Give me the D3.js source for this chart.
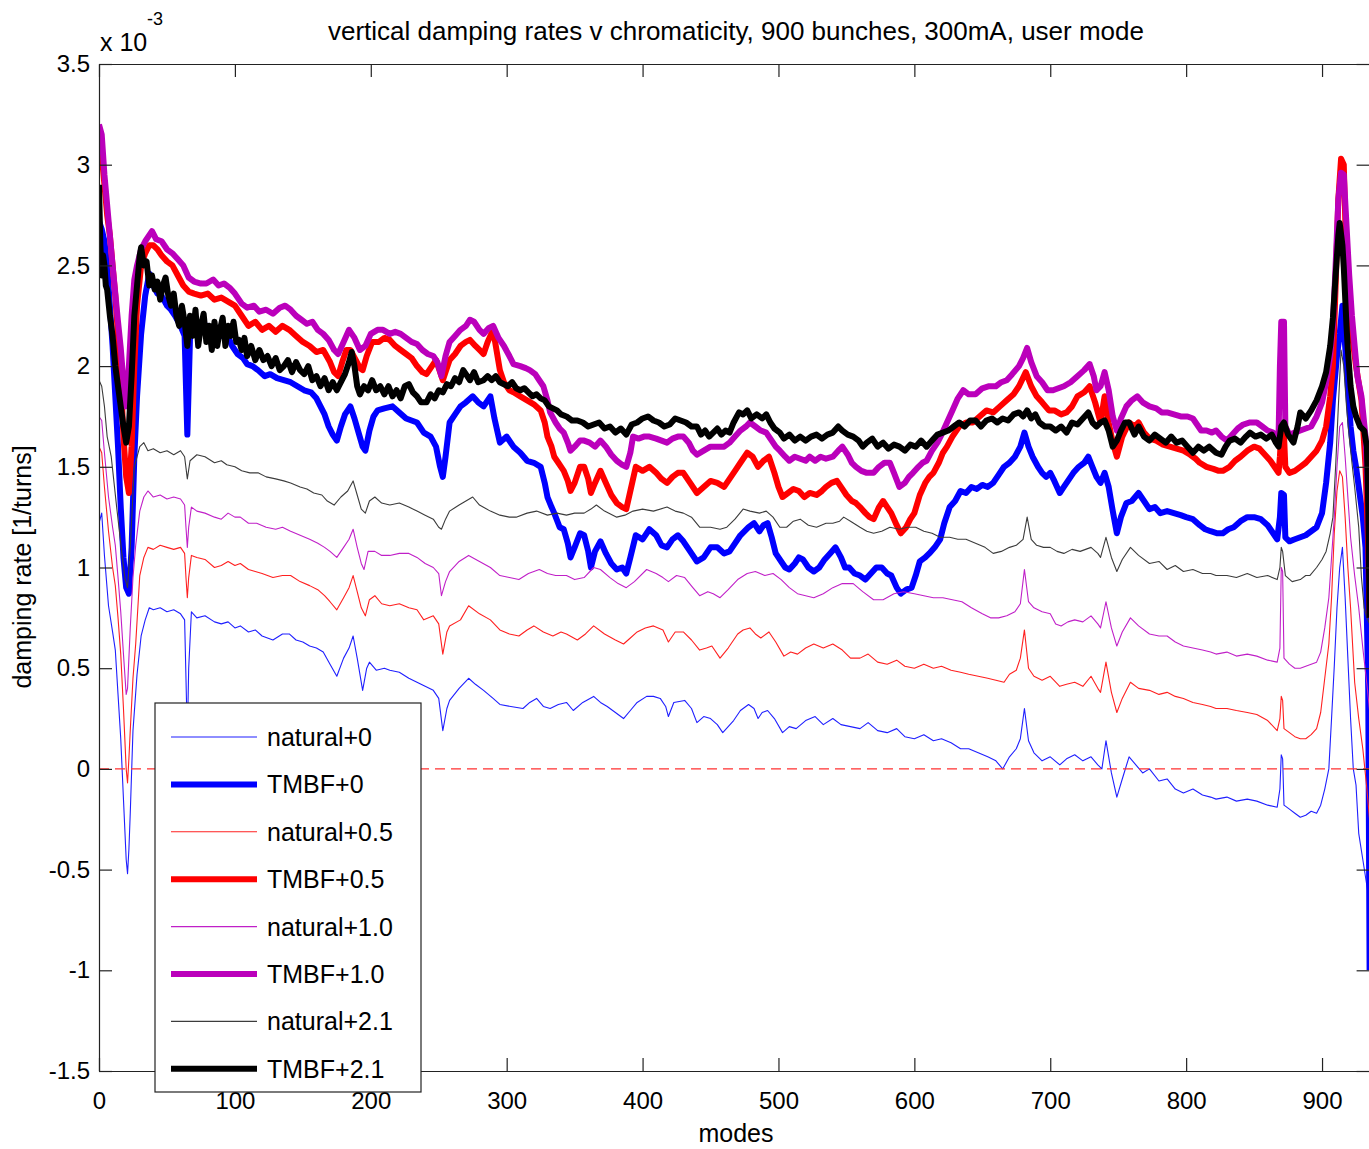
<!DOCTYPE html>
<html><head><meta charset="utf-8">
<script src="https://cdn.jsdelivr.net/npm/d3@7"></script>
<style>
html,body{margin:0;padding:0;background:#fff;}
svg{display:block;}
text{font-family:"Liberation Sans",Arial,Helvetica,sans-serif;fill:#000;}
</style></head><body>
<svg id="chart" width="1369" height="1149"></svg>
<script>
// ---------------- data (modes, value in units of 1e-3 1/turns) ----------------
const titleText = "vertical damping rates v chromaticity, 900 bunches, 300mA, user mode";
const xLabel = "modes";
const yLabel = "damping rate [1/turns]";
const xTicks = [0,100,200,300,400,500,600,700,800,900];
const yTicks = [-1.5,-1,-0.5,0,0.5,1,1.5,2,2.5,3,3.5];
const seriesNames = ["natural+0","TMBF+0","natural+0.5","TMBF+0.5","natural+1.0","TMBF+1.0","natural+2.1","TMBF+2.1"];

const natural0 = [[0,1.22],[2,1.27],[4,1.06],[7,0.81],[10,0.68],[12,0.59],[14,0.37],[16,0.15],[18,-0.15],[20,-0.45],[21,-0.52],[22,-0.4],[23,-0.22],[25,0.19],[28,0.47],[31,0.66],[34,0.74],[37,0.8],[40,0.79],[45,0.8],[50,0.78],[55,0.79],[60,0.77],[63,0.74],[64,0.45],[65,0.15],[66,0.5],[68,0.78],[72,0.75],[78,0.76],[85,0.73],[90,0.72],[95,0.73],[100,0.7],[104,0.71],[110,0.68],[115,0.69],[120,0.66],[128,0.64],[135,0.67],[140,0.67],[145,0.64],[150,0.63],[155,0.61],[160,0.6],[165,0.58],[170,0.52],[175,0.46],[180,0.55],[184,0.6],[187,0.66],[190,0.55],[194,0.39],[197,0.5],[199,0.53],[204,0.49],[210,0.5],[214,0.49],[221,0.48],[228,0.45],[234,0.43],[240,0.41],[246,0.39],[250,0.35],[253,0.19],[256,0.3],[258,0.34],[265,0.4],[272,0.45],[277,0.42],[283,0.39],[290,0.35],[295,0.32],[303,0.31],[312,0.3],[317,0.33],[322,0.35],[327,0.31],[332,0.3],[338,0.32],[344,0.33],[349,0.29],[356,0.33],[364,0.36],[369,0.33],[374,0.31],[380,0.28],[386,0.25],[391,0.29],[396,0.33],[403,0.36],[408,0.36],[413,0.35],[417,0.31],[419,0.26],[423,0.33],[431,0.34],[436,0.3],[440,0.23],[445,0.26],[450,0.25],[455,0.22],[459,0.18],[463,0.21],[467,0.24],[472,0.29],[478,0.32],[482,0.3],[485,0.25],[488,0.28],[492,0.29],[497,0.25],[503,0.18],[508,0.21],[513,0.2],[520,0.24],[527,0.26],[533,0.22],[540,0.25],[546,0.22],[553,0.21],[560,0.2],[566,0.23],[573,0.19],[580,0.18],[587,0.2],[593,0.16],[600,0.15],[607,0.17],[614,0.14],[620,0.15],[627,0.13],[634,0.1],[640,0.1],[647,0.08],[654,0.06],[660,0.04],[665,0.0],[670,0.06],[675,0.1],[678,0.15],[681,0.3],[684,0.14],[688,0.08],[694,0.04],[700,0.06],[707,0.02],[712,0.05],[718,0.07],[724,0.04],[730,0.06],[735,0.02],[738,0.0],[741,0.14],[745,-0.02],[749,-0.14],[753,-0.05],[758,0.06],[763,0.02],[768,-0.02],[773,0.0],[780,-0.06],[786,-0.05],[792,-0.1],[798,-0.12],[805,-0.1],[812,-0.13],[818,-0.14],[822,-0.15],[830,-0.14],[837,-0.16],[845,-0.15],[852,-0.16],[860,-0.18],[867,-0.19],[869,-0.1],[870,0.07],[871,0.05],[872,-0.18],[876,-0.2],[880,-0.22],[884,-0.24],[888,-0.23],[892,-0.21],[896,-0.22],[899,-0.18],[902,-0.1],[905,0.0],[907,0.25],[909,0.51],[911,0.8],[913,1.0],[915,1.1],[917,0.85],[919,0.55],[921,0.25],[923,0.0],[925,-0.08],[927,-0.32],[930,-0.45],[933,-0.58],[935,-0.68]];

const tmbf0 = [[0,2.72],[2,2.68],[4,2.62],[6,2.5],[8,2.3],[10,2.1],[12,1.85],[14,1.6],[16,1.3],[18,1.05],[20,0.9],[22,0.87],[24,1.1],[26,1.55],[28,1.85],[31,2.16],[34,2.35],[37,2.46],[40,2.4],[43,2.36],[46,2.35],[50,2.3],[53,2.28],[56,2.25],[60,2.2],[63,2.15],[64,1.9],[65,1.66],[66,1.9],[67,2.15],[70,2.2],[75,2.17],[80,2.2],[85,2.17],[90,2.15],[94,2.16],[98,2.1],[102,2.06],[106,2.04],[109,2.01],[113,2.0],[117,1.98],[122,1.95],[126,1.96],[131,1.94],[136,1.93],[141,1.92],[146,1.9],[151,1.88],[156,1.87],[160,1.84],[163,1.8],[166,1.76],[169,1.7],[172,1.66],[175,1.63],[178,1.7],[181,1.76],[185,1.8],[188,1.74],[191,1.67],[194,1.6],[196,1.58],[199,1.68],[202,1.75],[205,1.78],[210,1.79],[216,1.8],[221,1.77],[226,1.74],[230,1.73],[234,1.72],[239,1.67],[244,1.65],[248,1.6],[251,1.5],[253,1.45],[255,1.55],[258,1.72],[262,1.76],[266,1.8],[270,1.82],[275,1.85],[279,1.82],[283,1.8],[286,1.83],[288,1.85],[291,1.74],[295,1.62],[300,1.65],[305,1.6],[310,1.57],[315,1.53],[320,1.52],[325,1.5],[328,1.42],[330,1.35],[333,1.3],[335,1.27],[339,1.2],[342,1.19],[345,1.12],[347,1.05],[350,1.1],[354,1.17],[357,1.16],[360,1.08],[362,1.0],[365,1.08],[369,1.13],[373,1.07],[377,1.02],[381,0.99],[385,1.0],[388,0.97],[391,1.05],[395,1.16],[400,1.14],[405,1.19],[410,1.16],[414,1.11],[418,1.1],[422,1.14],[426,1.16],[430,1.13],[435,1.08],[440,1.03],[445,1.05],[450,1.1],[455,1.1],[460,1.07],[464,1.08],[468,1.12],[472,1.16],[478,1.2],[482,1.22],[486,1.18],[489,1.21],[492,1.22],[495,1.15],[498,1.07],[502,1.03],[505,1.0],[508,0.99],[512,1.02],[515,1.05],[518,1.04],[522,1.0],[526,0.98],[530,1.0],[534,1.04],[538,1.07],[542,1.1],[546,1.05],[549,1.0],[552,1.0],[556,0.97],[560,0.96],[564,0.94],[568,0.97],[572,1.0],[576,1.0],[580,0.97],[583,0.96],[587,0.9],[590,0.87],[594,0.89],[598,0.9],[601,0.96],[604,1.03],[608,1.05],[611,1.07],[615,1.1],[619,1.14],[622,1.22],[626,1.3],[630,1.33],[634,1.38],[638,1.37],[642,1.4],[646,1.39],[650,1.41],[654,1.4],[658,1.42],[662,1.46],[666,1.5],[670,1.52],[674,1.55],[678,1.6],[681,1.67],[684,1.6],[687,1.55],[691,1.5],[694,1.47],[697,1.45],[700,1.47],[703,1.43],[707,1.37],[710,1.4],[714,1.44],[717,1.47],[721,1.5],[725,1.52],[728,1.55],[731,1.5],[734,1.45],[737,1.42],[740,1.47],[743,1.4],[746,1.28],[749,1.17],[752,1.25],[756,1.32],[760,1.33],[765,1.37],[769,1.33],[773,1.29],[777,1.3],[781,1.27],[786,1.28],[791,1.27],[796,1.26],[800,1.25],[805,1.24],[810,1.21],[814,1.19],[818,1.18],[823,1.17],[827,1.17],[831,1.19],[835,1.2],[840,1.23],[845,1.25],[850,1.25],[855,1.24],[860,1.21],[864,1.17],[867,1.14],[869,1.25],[870,1.37],[872,1.36],[873,1.15],[876,1.13],[880,1.14],[884,1.15],[888,1.16],[892,1.18],[896,1.2],[900,1.27],[903,1.42],[906,1.62],[908,1.83],[911,2.05],[913,2.16],[915,2.3],[917,2.1],[919,1.9],[921,1.7],[923,1.58],[925,1.5],[928,1.35],[930,1.25],[932,1.1],[934,0.4],[935,-1.0]];

const natural05 = [[0,1.6],[2,1.57],[4,1.4],[7,1.18],[10,1.0],[12,0.91],[14,0.75],[16,0.57],[18,0.3],[20,0.0],[21,-0.07],[22,0.05],[23,0.19],[25,0.45],[27,0.62],[30,0.96],[33,1.05],[36,1.1],[40,1.09],[45,1.11],[50,1.1],[55,1.09],[60,1.1],[63,1.07],[64,0.95],[65,0.85],[66,0.95],[68,1.06],[72,1.05],[78,1.04],[85,1.0],[90,1.01],[95,1.03],[100,1.01],[104,1.02],[110,0.99],[115,0.98],[120,0.97],[128,0.95],[135,0.96],[141,0.96],[148,0.93],[155,0.91],[161,0.89],[166,0.86],[170,0.83],[175,0.79],[180,0.85],[184,0.9],[187,0.96],[190,0.88],[193,0.8],[196,0.76],[199,0.84],[203,0.86],[208,0.82],[214,0.81],[221,0.82],[228,0.8],[234,0.79],[239,0.74],[246,0.76],[250,0.72],[253,0.57],[256,0.68],[258,0.71],[266,0.74],[272,0.81],[280,0.77],[288,0.74],[295,0.69],[302,0.67],[309,0.66],[315,0.69],[320,0.71],[327,0.68],[334,0.66],[340,0.68],[344,0.67],[352,0.64],[358,0.67],[364,0.71],[372,0.67],[380,0.64],[386,0.62],[391,0.65],[396,0.68],[402,0.7],[408,0.71],[415,0.69],[419,0.63],[424,0.68],[430,0.68],[436,0.64],[442,0.59],[447,0.6],[451,0.61],[457,0.55],[463,0.6],[470,0.67],[474,0.69],[479,0.7],[483,0.67],[487,0.65],[493,0.68],[498,0.63],[504,0.56],[509,0.58],[514,0.57],[520,0.6],[526,0.62],[533,0.6],[540,0.62],[547,0.59],[553,0.55],[560,0.55],[566,0.57],[573,0.53],[580,0.52],[587,0.54],[593,0.51],[600,0.5],[607,0.52],[614,0.5],[620,0.51],[627,0.49],[634,0.48],[640,0.47],[647,0.46],[654,0.45],[660,0.44],[666,0.43],[670,0.47],[675,0.49],[678,0.55],[681,0.69],[684,0.5],[688,0.46],[694,0.44],[700,0.46],[707,0.41],[712,0.42],[718,0.43],[724,0.41],[730,0.46],[735,0.4],[737,0.38],[741,0.53],[745,0.38],[749,0.28],[753,0.35],[759,0.43],[765,0.4],[773,0.39],[780,0.37],[786,0.38],[792,0.36],[798,0.35],[805,0.33],[812,0.32],[818,0.31],[822,0.3],[830,0.3],[837,0.29],[845,0.28],[852,0.27],[860,0.24],[867,0.19],[869,0.25],[870,0.36],[871,0.34],[872,0.2],[876,0.18],[880,0.16],[884,0.15],[888,0.15],[892,0.17],[896,0.2],[899,0.28],[902,0.45],[905,0.62],[907,0.85],[909,1.17],[911,1.38],[913,1.48],[915,1.45],[917,1.25],[919,1.0],[921,0.8],[924,0.43],[927,0.25],[930,0.1],[933,-0.1],[935,-0.25]];

const tmbf05 = [[0,3.1],[2,3.05],[4,2.9],[6,2.75],[8,2.65],[10,2.5],[12,2.35],[14,2.15],[16,1.95],[18,1.65],[20,1.45],[22,1.37],[24,1.6],[26,2.0],[28,2.3],[31,2.5],[34,2.56],[37,2.6],[40,2.6],[43,2.58],[46,2.55],[50,2.52],[54,2.5],[58,2.45],[62,2.4],[66,2.37],[70,2.36],[75,2.35],[80,2.36],[85,2.33],[90,2.34],[95,2.32],[100,2.3],[105,2.25],[110,2.2],[115,2.22],[120,2.18],[125,2.2],[130,2.17],[135,2.2],[140,2.18],[145,2.15],[150,2.12],[155,2.1],[160,2.07],[165,2.08],[170,2.02],[173,1.97],[176,1.95],[179,2.02],[182,2.08],[185,2.08],[189,2.03],[192,1.99],[194,1.98],[197,2.05],[201,2.12],[206,2.12],[210,2.14],[214,2.13],[218,2.1],[222,2.08],[226,2.06],[230,2.04],[234,2.0],[238,1.97],[241,1.96],[245,2.0],[248,2.03],[251,1.97],[253,1.93],[256,1.99],[258,2.03],[262,2.06],[266,2.1],[270,2.12],[273,2.13],[277,2.1],[280,2.08],[283,2.06],[286,2.12],[290,2.18],[292,2.1],[295,1.98],[298,1.92],[302,1.88],[305,1.87],[310,1.85],[315,1.83],[320,1.81],[325,1.78],[328,1.72],[330,1.65],[333,1.6],[335,1.55],[338,1.52],[342,1.48],[345,1.43],[347,1.38],[350,1.42],[354,1.5],[357,1.5],[360,1.44],[362,1.37],[365,1.42],[369,1.48],[373,1.42],[377,1.36],[381,1.32],[385,1.3],[388,1.29],[391,1.38],[395,1.5],[400,1.48],[405,1.5],[410,1.47],[414,1.44],[418,1.42],[422,1.45],[426,1.47],[430,1.47],[435,1.42],[440,1.37],[445,1.4],[450,1.43],[455,1.42],[460,1.4],[464,1.44],[468,1.48],[472,1.52],[477,1.57],[481,1.55],[485,1.5],[489,1.53],[493,1.55],[497,1.47],[500,1.4],[503,1.35],[507,1.37],[511,1.39],[515,1.38],[519,1.35],[523,1.37],[528,1.36],[532,1.38],[535,1.4],[539,1.42],[543,1.43],[546,1.4],[550,1.36],[554,1.33],[557,1.32],[560,1.3],[564,1.27],[567,1.25],[570,1.24],[574,1.3],[577,1.33],[580,1.3],[583,1.27],[587,1.21],[590,1.17],[594,1.2],[597,1.24],[600,1.27],[604,1.36],[608,1.42],[611,1.45],[614,1.47],[618,1.52],[621,1.57],[624,1.6],[628,1.65],[633,1.7],[638,1.72],[643,1.72],[648,1.75],[653,1.78],[658,1.77],[663,1.8],[668,1.83],[673,1.86],[677,1.9],[682,1.97],[686,1.9],[690,1.85],[694,1.82],[699,1.78],[703,1.78],[708,1.76],[712,1.77],[716,1.8],[720,1.85],[725,1.87],[729,1.9],[733,1.82],[737,1.72],[740,1.85],[743,1.72],[746,1.62],[749,1.55],[753,1.65],[758,1.72],[762,1.7],[765,1.72],[769,1.67],[773,1.64],[778,1.63],[783,1.61],[788,1.6],[793,1.59],[798,1.58],[803,1.56],[807,1.54],[810,1.52],[815,1.5],[820,1.49],[824,1.48],[827,1.48],[832,1.5],[836,1.53],[840,1.55],[845,1.58],[850,1.6],[854,1.59],[858,1.56],[862,1.53],[865,1.5],[868,1.47],[869,1.55],[870,1.67],[872,1.66],[873,1.5],[876,1.47],[880,1.48],[884,1.5],[888,1.52],[892,1.55],[896,1.58],[900,1.63],[903,1.7],[906,1.85],[908,2.0],[910,2.4],[912,2.83],[914,3.03],[916,3.0],[918,2.5],[920,2.3],[922,2.16],[925,2.0],[929,1.83],[932,1.5],[934,1.1],[935,0.75]];

const natural10 = [[0,1.75],[2,1.73],[4,1.57],[7,1.35],[10,1.2],[12,1.11],[14,0.95],[16,0.78],[18,0.57],[20,0.37],[21,0.4],[22,0.55],[23,0.7],[25,0.95],[27,1.11],[30,1.28],[33,1.35],[36,1.38],[40,1.35],[45,1.36],[50,1.34],[55,1.35],[60,1.34],[63,1.31],[64,1.2],[65,1.1],[66,1.2],[68,1.3],[72,1.28],[78,1.27],[85,1.25],[90,1.24],[95,1.27],[100,1.25],[104,1.25],[110,1.22],[116,1.22],[123,1.2],[130,1.19],[135,1.2],[141,1.18],[148,1.16],[155,1.14],[161,1.12],[166,1.1],[170,1.08],[175,1.05],[180,1.1],[184,1.14],[187,1.19],[190,1.1],[193,1.02],[195,0.99],[198,1.08],[203,1.08],[208,1.06],[214,1.06],[221,1.07],[228,1.07],[234,1.05],[240,1.02],[246,1.0],[250,0.97],[252,0.86],[255,0.93],[258,0.98],[265,1.03],[272,1.06],[280,1.03],[288,1.0],[295,0.96],[302,0.95],[309,0.94],[316,0.97],[324,0.99],[330,0.97],[336,0.96],[344,0.96],[350,0.94],[357,0.95],[364,1.0],[369,0.99],[376,0.95],[382,0.92],[388,0.9],[394,0.93],[403,0.99],[410,0.97],[415,0.95],[419,0.93],[425,0.96],[431,0.95],[437,0.9],[442,0.86],[448,0.88],[452,0.87],[457,0.85],[463,0.89],[470,0.94],[477,0.97],[483,0.98],[490,0.96],[496,0.97],[502,0.94],[508,0.9],[514,0.87],[520,0.86],[526,0.85],[533,0.87],[540,0.9],[547,0.92],[555,0.92],[562,0.88],[570,0.84],[577,0.84],[585,0.87],[592,0.88],[600,0.87],[607,0.86],[614,0.85],[621,0.85],[628,0.84],[635,0.83],[642,0.8],[650,0.77],[656,0.75],[662,0.75],[668,0.76],[674,0.78],[678,0.82],[681,0.99],[684,0.83],[688,0.8],[694,0.78],[700,0.77],[704,0.72],[708,0.71],[713,0.73],[718,0.74],[724,0.73],[730,0.76],[735,0.72],[737,0.7],[741,0.83],[745,0.7],[749,0.61],[753,0.68],[759,0.75],[765,0.71],[773,0.67],[780,0.66],[786,0.66],[792,0.63],[798,0.61],[805,0.6],[812,0.59],[818,0.58],[822,0.57],[830,0.58],[837,0.56],[845,0.57],[852,0.56],[860,0.54],[867,0.53],[869,0.6],[870,1.0],[871,0.98],[872,0.55],[876,0.52],[880,0.5],[884,0.5],[888,0.51],[892,0.52],[896,0.53],[899,0.58],[902,0.7],[905,0.85],[907,1.05],[909,1.25],[911,1.5],[913,1.7],[915,1.72],[917,1.55],[919,1.35],[921,1.15],[924,0.96],[927,0.8],[930,0.6],[933,0.42],[935,0.29]];

const tmbf10 = [[0,3.2],[2,3.15],[4,2.95],[6,2.8],[8,2.65],[10,2.5],[12,2.36],[14,2.22],[16,2.09],[18,1.92],[20,1.8],[22,2.0],[24,2.25],[26,2.43],[28,2.5],[31,2.58],[34,2.62],[37,2.65],[39,2.67],[42,2.63],[46,2.62],[50,2.58],[54,2.56],[58,2.53],[62,2.5],[66,2.44],[70,2.42],[75,2.41],[79,2.41],[84,2.43],[88,2.4],[92,2.41],[96,2.39],[100,2.36],[105,2.31],[109,2.29],[114,2.3],[118,2.27],[123,2.28],[128,2.26],[133,2.29],[137,2.3],[141,2.28],[145,2.25],[149,2.23],[153,2.21],[157,2.22],[161,2.18],[165,2.16],[169,2.13],[173,2.08],[176,2.06],[180,2.12],[184,2.18],[188,2.14],[192,2.08],[196,2.1],[200,2.16],[205,2.18],[209,2.18],[214,2.16],[218,2.17],[222,2.16],[226,2.14],[230,2.12],[234,2.11],[238,2.08],[242,2.06],[246,2.05],[249,2.02],[252,1.95],[255,2.05],[258,2.12],[262,2.15],[266,2.18],[270,2.2],[273,2.23],[276,2.22],[280,2.18],[283,2.16],[287,2.19],[290,2.2],[294,2.14],[298,2.1],[302,2.05],[305,2.01],[310,2.0],[314,1.99],[317,1.98],[321,1.96],[324,1.93],[327,1.9],[330,1.83],[332,1.77],[336,1.72],[339,1.69],[342,1.67],[345,1.62],[347,1.58],[350,1.6],[354,1.63],[357,1.63],[361,1.62],[365,1.6],[369,1.63],[373,1.6],[377,1.56],[381,1.53],[385,1.51],[388,1.5],[391,1.57],[393,1.65],[397,1.64],[401,1.65],[405,1.65],[410,1.64],[414,1.63],[418,1.62],[422,1.64],[426,1.65],[430,1.65],[434,1.62],[437,1.58],[440,1.56],[445,1.58],[450,1.6],[455,1.6],[460,1.6],[464,1.62],[468,1.65],[472,1.68],[476,1.7],[479,1.72],[483,1.7],[487,1.68],[491,1.67],[495,1.63],[498,1.6],[501,1.58],[505,1.55],[508,1.53],[512,1.55],[516,1.54],[520,1.53],[523,1.55],[527,1.53],[531,1.55],[535,1.54],[540,1.55],[544,1.58],[547,1.6],[551,1.56],[554,1.52],[557,1.5],[561,1.48],[565,1.47],[570,1.47],[574,1.5],[578,1.52],[582,1.52],[585,1.47],[589,1.4],[593,1.42],[596,1.45],[599,1.47],[603,1.5],[606,1.52],[609,1.53],[613,1.58],[617,1.62],[620,1.66],[624,1.72],[628,1.78],[632,1.84],[636,1.88],[640,1.86],[645,1.86],[650,1.89],[655,1.9],[660,1.9],[664,1.92],[668,1.93],[672,1.96],[677,2.0],[680,2.04],[683,2.09],[686,2.02],[690,1.95],[694,1.92],[698,1.88],[702,1.88],[706,1.89],[710,1.9],[715,1.92],[720,1.95],[725,1.98],[729,2.01],[732,1.95],[734,1.88],[737,1.9],[740,1.97],[743,1.88],[746,1.75],[749,1.68],[752,1.74],[756,1.8],[760,1.83],[764,1.85],[768,1.82],[773,1.8],[778,1.79],[782,1.77],[786,1.77],[791,1.76],[796,1.75],[801,1.75],[805,1.74],[808,1.71],[811,1.68],[815,1.68],[819,1.67],[822,1.68],[826,1.65],[830,1.63],[834,1.66],[838,1.69],[842,1.71],[847,1.72],[852,1.72],[856,1.7],[860,1.68],[864,1.67],[868,1.65],[869,2.0],[870,2.22],[872,2.22],[873,1.7],[876,1.66],[880,1.67],[884,1.68],[888,1.69],[892,1.7],[896,1.75],[900,1.82],[903,1.92],[906,2.05],[908,2.2],[910,2.5],[912,2.83],[914,2.96],[916,2.95],[918,2.7],[920,2.45],[922,2.25],[924,2.1],[926,1.95],[929,1.85],[932,1.65],[934,1.3],[935,0.9]];

const natural21 = [[0,1.93],[2,1.9],[4,1.8],[6,1.65],[9,1.55],[13,1.3],[17,1.06],[19,0.95],[21,0.9],[23,1.1],[26,1.5],[30,1.6],[33,1.62],[36,1.58],[40,1.59],[45,1.57],[50,1.58],[55,1.56],[60,1.58],[63,1.55],[65,1.44],[67,1.53],[72,1.56],[78,1.55],[85,1.52],[90,1.53],[94,1.51],[100,1.5],[105,1.48],[111,1.47],[117,1.47],[123,1.45],[130,1.44],[136,1.43],[141,1.42],[148,1.4],[153,1.39],[158,1.37],[164,1.36],[168,1.33],[173,1.31],[178,1.35],[183,1.38],[187,1.43],[190,1.36],[193,1.29],[196,1.27],[199,1.33],[203,1.35],[208,1.32],[214,1.31],[221,1.32],[228,1.3],[234,1.28],[240,1.26],[246,1.24],[250,1.2],[252,1.19],[255,1.24],[258,1.28],[265,1.31],[270,1.33],[275,1.35],[280,1.31],[288,1.28],[295,1.26],[302,1.25],[307,1.25],[315,1.27],[322,1.28],[330,1.26],[337,1.27],[344,1.26],[350,1.27],[357,1.27],[362,1.29],[366,1.31],[372,1.28],[381,1.25],[387,1.26],[393,1.28],[400,1.29],[408,1.28],[418,1.3],[424,1.28],[430,1.27],[436,1.25],[442,1.2],[450,1.2],[457,1.19],[462,1.2],[468,1.24],[474,1.29],[479,1.28],[486,1.27],[491,1.28],[496,1.25],[501,1.2],[506,1.2],[511,1.23],[516,1.24],[522,1.21],[528,1.2],[535,1.22],[540,1.22],[545,1.23],[548,1.25],[553,1.23],[560,1.2],[565,1.18],[570,1.17],[576,1.18],[582,1.2],[589,1.19],[595,1.2],[601,1.2],[607,1.18],[613,1.17],[619,1.15],[626,1.15],[632,1.14],[638,1.14],[645,1.12],[652,1.1],[658,1.07],[664,1.08],[670,1.1],[675,1.11],[680,1.14],[683,1.25],[686,1.14],[690,1.11],[695,1.1],[700,1.1],[705,1.08],[710,1.07],[716,1.09],[722,1.08],[730,1.1],[735,1.07],[737,1.05],[741,1.15],[745,1.05],[749,0.98],[753,1.04],[759,1.1],[765,1.06],[773,1.02],[780,1.03],[786,0.99],[792,1.01],[798,0.98],[805,0.99],[812,0.97],[818,0.97],[822,0.96],[830,0.96],[837,0.95],[845,0.97],[852,0.95],[860,0.96],[867,0.94],[869,1.0],[870,1.1],[871,1.08],[873,0.96],[878,0.93],[884,0.94],[888,0.96],[891,0.96],[896,1.0],[900,1.04],[903,1.08],[906,1.17],[908,1.25],[910,1.5],[912,1.8],[914,2.08],[916,2.0],[918,1.8],[920,1.65],[922,1.52],[924,1.4],[927,1.2],[929,0.95],[931,0.8],[933,0.75],[935,0.72]];

const tmbf21 = [[0,2.9],[1,2.6],[2,2.45],[3,2.55],[4,2.5],[5,2.4],[6,2.38],[8,2.25],[10,2.15],[12,2.0],[14,1.9],[16,1.8],[18,1.7],[20,1.62],[22,1.7],[24,1.95],[26,2.25],[28,2.4],[30,2.55],[31,2.59],[33,2.5],[35,2.52],[37,2.4],[39,2.45],[41,2.38],[43,2.42],[45,2.33],[47,2.4],[49,2.44],[51,2.35],[53,2.3],[55,2.36],[57,2.25],[59,2.2],[61,2.3],[63,2.22],[65,2.1],[67,2.25],[69,2.15],[71,2.28],[73,2.1],[75,2.2],[77,2.26],[79,2.12],[81,2.2],[83,2.08],[85,2.22],[87,2.1],[89,2.18],[91,2.24],[93,2.1],[95,2.2],[97,2.15],[99,2.22],[101,2.12],[103,2.13],[105,2.08],[107,2.14],[109,2.05],[112,2.1],[115,2.03],[118,2.08],[121,2.03],[124,2.05],[127,2.0],[130,2.04],[133,1.98],[136,2.0],[139,2.03],[142,1.97],[145,2.02],[148,1.98],[151,1.96],[154,2.0],[157,1.93],[160,1.95],[163,1.9],[166,1.94],[169,1.88],[172,1.92],[175,1.88],[178,1.92],[181,1.96],[184,2.02],[186,2.07],[188,2.0],[190,1.9],[192,1.86],[195,1.9],[198,1.88],[201,1.93],[204,1.88],[207,1.9],[210,1.86],[213,1.9],[216,1.85],[219,1.88],[222,1.84],[225,1.9],[228,1.91],[231,1.87],[234,1.85],[237,1.82],[241,1.82],[244,1.86],[247,1.84],[250,1.88],[253,1.87],[256,1.91],[259,1.9],[262,1.94],[265,1.92],[268,1.98],[270,1.96],[273,1.93],[276,1.97],[279,1.92],[283,1.93],[286,1.95],[289,1.93],[292,1.95],[295,1.92],[298,1.91],[301,1.9],[304,1.92],[307,1.89],[310,1.88],[313,1.89],[316,1.87],[319,1.85],[322,1.86],[325,1.84],[328,1.83],[331,1.8],[334,1.79],[337,1.78],[340,1.76],[344,1.75],[348,1.73],[352,1.73],[356,1.72],[360,1.7],[364,1.71],[368,1.72],[372,1.69],[376,1.7],[380,1.67],[384,1.69],[388,1.66],[392,1.71],[396,1.72],[400,1.74],[404,1.75],[408,1.73],[412,1.72],[416,1.7],[420,1.71],[424,1.74],[428,1.73],[432,1.72],[436,1.7],[440,1.7],[443,1.66],[446,1.68],[449,1.65],[452,1.67],[455,1.69],[458,1.66],[461,1.68],[464,1.67],[467,1.72],[471,1.77],[474,1.76],[477,1.78],[480,1.74],[484,1.76],[488,1.74],[491,1.76],[494,1.72],[497,1.69],[501,1.67],[504,1.64],[508,1.66],[512,1.63],[516,1.65],[520,1.63],[524,1.65],[528,1.66],[532,1.64],[536,1.66],[540,1.67],[544,1.7],[547,1.68],[551,1.66],[555,1.65],[559,1.63],[562,1.6],[565,1.62],[569,1.64],[573,1.6],[577,1.62],[581,1.59],[585,1.61],[589,1.6],[593,1.58],[597,1.61],[601,1.6],[605,1.63],[609,1.6],[613,1.63],[617,1.66],[621,1.67],[625,1.68],[629,1.7],[633,1.72],[637,1.7],[641,1.73],[645,1.73],[649,1.7],[653,1.73],[657,1.74],[661,1.72],[665,1.74],[669,1.73],[673,1.76],[677,1.77],[680,1.75],[683,1.78],[686,1.74],[689,1.76],[692,1.72],[696,1.7],[700,1.7],[704,1.68],[708,1.7],[712,1.67],[716,1.72],[720,1.71],[724,1.74],[728,1.77],[731,1.72],[734,1.7],[737,1.72],[740,1.73],[743,1.68],[746,1.6],[749,1.63],[752,1.68],[755,1.72],[758,1.72],[762,1.66],[765,1.7],[769,1.65],[773,1.63],[777,1.66],[781,1.64],[785,1.62],[789,1.65],[793,1.62],[797,1.63],[801,1.6],[805,1.57],[809,1.6],[813,1.58],[817,1.6],[822,1.57],[826,1.56],[829,1.6],[832,1.63],[836,1.64],[840,1.62],[844,1.65],[847,1.67],[851,1.65],[855,1.66],[859,1.64],[863,1.66],[866,1.62],[868,1.6],[870,1.7],[872,1.72],[875,1.66],[879,1.62],[882,1.7],[884,1.77],[888,1.74],[892,1.78],[896,1.83],[900,1.9],[903,1.97],[906,2.1],[908,2.24],[910,2.45],[912,2.65],[913,2.71],[915,2.6],[916,2.49],[918,2.2],[919,2.08],[921,1.9],[923,1.8],[925,1.75],[928,1.7],[931,1.68],[933,1.6],[934,1.3],[935,0.75]];

const seriesData = [natural0, tmbf0, natural05, tmbf05, natural10, tmbf10, natural21, tmbf21];
const seriesColors = ["#1f1fff","#0000ff","#ff2020","#ff0000","#c020c8","#bb00bb","#3c3c3c","#000000"];
const seriesWidths = [1.1,6,1.1,6,1.1,6,1.1,6];

// ---------------- drawing ----------------
const svg = d3.select("#chart");
const W = 1369, H = 1149;
const m = {left:99, top:64, right:1369.6, bottom:1071};
const x = d3.scaleLinear().domain([0,935]).range([m.left, m.right]);
const y = d3.scaleLinear().domain([-1.5,3.5]).range([m.bottom, m.top]);

svg.append("rect").attr("width",W).attr("height",H).attr("fill","#fff");

svg.append("defs").append("clipPath").attr("id","plotclip")
  .append("rect").attr("x",m.left).attr("y",m.top)
  .attr("width",m.right-m.left).attr("height",m.bottom-m.top);

const line = d3.line().x(d=>x(d[0])).y(d=>y(d[1]));
const plot = svg.append("g").attr("clip-path","url(#plotclip)");
seriesData.forEach((s,i)=>{
  plot.append("path").datum(s).attr("d",line)
    .attr("fill","none").attr("stroke",seriesColors[i])
    .attr("stroke-width",seriesWidths[i])
    .attr("stroke-linejoin","round").attr("stroke-linecap","butt");
});
// zero reference
plot.append("line").attr("x1",x(0)).attr("x2",x(935)).attr("y1",y(0)).attr("y2",y(0))
  .attr("stroke","#ff3030").attr("stroke-width",1.3).attr("stroke-dasharray","10,6");

// axes
const axisFont = 24;
const gB = svg.append("g").attr("transform",`translate(0,${m.bottom})`)
  .call(d3.axisBottom(x).tickValues(xTicks).tickSize(-13).tickSizeOuter(0).tickPadding(21).tickFormat(d3.format("d")));
const gT = svg.append("g").attr("transform",`translate(0,${m.top})`)
  .call(d3.axisTop(x).tickValues(xTicks).tickSize(-13).tickSizeOuter(0).tickFormat(""));
const gL = svg.append("g").attr("transform",`translate(${m.left},0)`)
  .call(d3.axisLeft(y).tickValues(yTicks).tickSize(-13).tickSizeOuter(0).tickPadding(9).tickFormat(d=>String(d)));
const gR = svg.append("g").attr("transform",`translate(${m.right},0)`)
  .call(d3.axisRight(y).tickValues(yTicks).tickSize(-13).tickSizeOuter(0).tickFormat(""));
[gB,gT,gL,gR].forEach(g=>{
  g.selectAll("path.domain").attr("stroke","#222").attr("stroke-width",1.2);
  g.selectAll(".tick line").attr("stroke","#222").attr("stroke-width",1.2);
  g.selectAll("text").attr("font-size",axisFont).attr("font-family",'"Liberation Sans",Arial,sans-serif').attr("fill","#000");
});

// exponent
svg.append("text").attr("x",100).attr("y",51).attr("font-size",25).text("x 10");
svg.append("text").attr("x",147).attr("y",25).attr("font-size",18).text("-3");

// title & labels
svg.append("text").attr("x",736).attr("y",40).attr("text-anchor","middle").attr("font-size",26).text(titleText);
svg.append("text").attr("x",736).attr("y",1142).attr("text-anchor","middle").attr("font-size",25).text(xLabel);
svg.append("text").attr("transform","translate(31,567) rotate(-90)").attr("text-anchor","middle").attr("font-size",25).text(yLabel);

// legend
const lg = svg.append("g");
lg.append("rect").attr("x",155).attr("y",703).attr("width",266).attr("height",389)
  .attr("fill","#fff").attr("stroke","#222").attr("stroke-width",1.2);
seriesNames.forEach((n,i)=>{
  const yy = 737 + i*47.4;
  lg.append("line").attr("x1",171).attr("x2",257).attr("y1",yy).attr("y2",yy)
    .attr("stroke",seriesColors[i]).attr("stroke-width",seriesWidths[i]);
  lg.append("text").attr("x",267).attr("y",yy).attr("dy","0.36em").attr("font-size",25).text(n);
});
</script>
</body></html>
